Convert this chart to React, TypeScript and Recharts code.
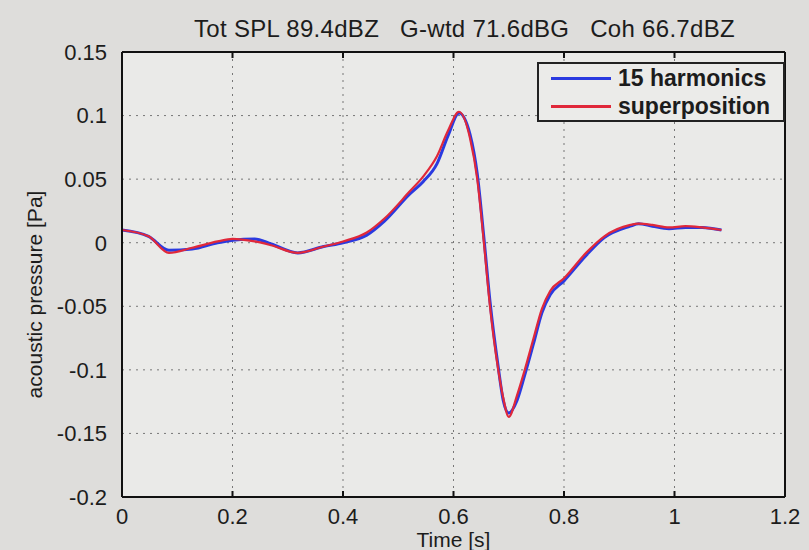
import React from 'react'
import { LineChart, Line, XAxis, YAxis, CartesianGrid, Legend } from 'recharts'

const TITLE = 'Tot SPL 89.4dBZ   G-wtd 71.6dBG   Coh 66.7dBZ'

// time samples [s]
const time = [
  0, 0.048, 0.085, 0.127, 0.173, 0.2, 0.24, 0.27, 0.318, 0.365, 0.4, 0.443,
  0.475, 0.52, 0.545, 0.57, 0.59, 0.61, 0.63, 0.643, 0.655, 0.666, 0.681, 0.69,
  0.7, 0.715, 0.729, 0.745, 0.76, 0.775, 0.8, 0.84, 0.873, 0.92, 0.935, 0.96,
  0.99, 1.02, 1.05, 1.085,
]

// 15 harmonics [Pa]
const harmonics = [
  0.01, 0.005, -0.006, -0.005, 0.0, 0.002, 0.003, -0.001, -0.008, -0.003, 0.0,
  0.006, 0.017, 0.038, 0.048, 0.062, 0.084, 0.102, 0.085, 0.054, 0.004, -0.046,
  -0.098, -0.124, -0.134, -0.124, -0.104, -0.079, -0.055, -0.041, -0.03, -0.01,
  0.004, 0.013, 0.015, 0.013, 0.011, 0.012, 0.012, 0.01,
]

// superposition [Pa]
const superposition = [
  0.01, 0.005, -0.008, -0.004, 0.001, 0.003, 0.001, -0.002, -0.008, -0.003,
  0.001, 0.008, 0.019, 0.04, 0.052, 0.068, 0.088, 0.103, 0.082, 0.05, 0.0,
  -0.05, -0.1, -0.122, -0.137, -0.12, -0.1, -0.075, -0.052, -0.038, -0.028,
  -0.008, 0.005, 0.014, 0.015, 0.014, 0.012, 0.013, 0.012, 0.01,
]

const xTicks = [0, 0.2, 0.4, 0.6, 0.8, 1, 1.2]
const yTicks = [-0.2, -0.15, -0.1, -0.05, 0, 0.05, 0.1, 0.15]

const data = time.map((t, i) => ({
  t,
  harm: harmonics[i],
  sup: superposition[i],
}))

const FONT = '"Liberation Sans", Arial, sans-serif'
const INK = '#1c1c1c'
const BLUE = '#2a3ae0'
const RED = '#e0283a'

function LegendBox() {
  const row = (color: string, label: string) => (
    <div style={{ display: 'flex', alignItems: 'center', height: 28 }}>
      <div style={{ width: 60, height: 3, background: color, marginLeft: 12, marginRight: 7 }} />
      <span>{label}</span>
    </div>
  )
  return (
    <div
      style={{
        width: 244,
        height: 56,
        border: '2px solid #222',
        background: '#ebebe9',
        fontFamily: FONT,
        fontSize: 23,
        fontWeight: 'bold',
        color: INK,
        lineHeight: '28px',
      }}
    >
      {row(BLUE, '15 harmonics')}
      {row(RED, 'superposition')}
    </div>
  )
}

export default function App() {
  return (
    <div
      style={{
        position: 'absolute',
        left: 0,
        top: 0,
        width: 809,
        height: 550,
        background: '#dedddb',
        fontFamily: FONT,
      }}
    >
      <div
        style={{
          position: 'absolute',
          left: 0,
          width: 809,
          top: 15,
          textAlign: 'center',
          fontSize: 24,
          letterSpacing: 0.3,
          color: INK,
          whiteSpace: 'pre',
          paddingLeft: 120,
          boxSizing: 'border-box',
        }}
      >
        {TITLE}
      </div>
      <LineChart
        width={809}
        height={550}
        data={data}
        margin={{ top: 52, right: 24, bottom: 0, left: 0 }}
        style={{ position: 'absolute', left: 0, top: 0 }}
      >
        <CartesianGrid stroke="#777" strokeDasharray="2 5" fill="#eaeae8" />
        <XAxis
          dataKey="t"
          type="number"
          domain={[0, 1.2]}
          ticks={xTicks}
          allowDataOverflow
          height={53}
          tickLine={false}
          tickMargin={5}
          stroke="#111"
          strokeWidth={2}
          tick={{ fill: INK, fontSize: 22, fontFamily: FONT }}
          tickFormatter={(v: number) => String(v)}
          label={{
            content: ({ viewBox }: any) => (
              <text
                x={viewBox.x + viewBox.width / 2}
                y={viewBox.y + 50}
                textAnchor="middle"
                fill={INK}
                fontSize={21}
                fontFamily={FONT}
              >
                Time [s]
              </text>
            ),
          }}
        />
        <XAxis
          xAxisId="bottomIn"
          dataKey="t"
          type="number"
          domain={[0, 1.2]}
          ticks={xTicks}
          orientation="bottom"
          mirror
          axisLine={false}
          tickSize={6}
          stroke="#111"
          strokeWidth={2}
          tickFormatter={() => ''}
        />
        <XAxis
          xAxisId="top"
          dataKey="t"
          type="number"
          domain={[0, 1.2]}
          ticks={xTicks}
          orientation="top"
          mirror
          tickSize={6}
          stroke="#111"
          strokeWidth={2}
          tickFormatter={() => ''}
        />
        <YAxis
          type="number"
          domain={[-0.2, 0.15]}
          ticks={yTicks}
          allowDataOverflow
          width={122}
          tickLine={false}
          tickMargin={9}
          stroke="#111"
          strokeWidth={2}
          tick={{ fill: INK, fontSize: 22, fontFamily: FONT }}
          tickFormatter={(v: number) => String(v)}
          label={{
            content: ({ viewBox }: any) => (
              <text
                x={36}
                y={viewBox.y + viewBox.height / 2 + 20}
                transform={`rotate(-90 36 ${viewBox.y + viewBox.height / 2 + 20})`}
                textAnchor="middle"
                dominantBaseline="middle"
                fill={INK}
                fontSize={21}
                fontFamily={FONT}
              >
                acoustic pressure [Pa]
              </text>
            ),
          }}
        />
        <YAxis
          yAxisId="leftIn"
          type="number"
          domain={[-0.2, 0.15]}
          ticks={yTicks}
          orientation="left"
          mirror
          axisLine={false}
          tickSize={6}
          stroke="#111"
          strokeWidth={2}
          tickFormatter={() => ''}
        />
        <YAxis
          yAxisId="right"
          type="number"
          domain={[-0.2, 0.15]}
          ticks={yTicks}
          orientation="right"
          mirror
          tickSize={6}
          stroke="#111"
          strokeWidth={2}
          tickFormatter={() => ''}
        />
        <Legend
          layout="horizontal"
          verticalAlign="middle"
          align="center"
          content={() => <LegendBox />}
          wrapperStyle={{ top: 62, left: 537, width: 248 }}
        />
        <Line
          type="monotone"
          dataKey="harm"
          name="15 harmonics"
          stroke={BLUE}
          strokeWidth={3}
          dot={false}
          isAnimationActive={false}
        />
        <Line
          type="monotone"
          dataKey="sup"
          name="superposition"
          stroke={RED}
          strokeWidth={2.2}
          dot={false}
          isAnimationActive={false}
        />
      </LineChart>
    </div>
  )
}
